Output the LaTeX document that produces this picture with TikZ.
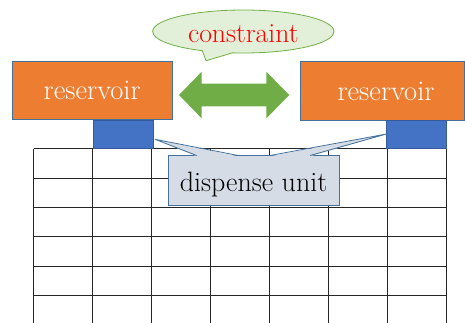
\documentclass[tikz,border=0pt]{standalone}
\usetikzlibrary{shapes.callouts}
\definecolor{resorange}{HTML}{ED7D31}
\definecolor{resborder}{HTML}{41719C}
\definecolor{unitblue}{HTML}{4472C4}
\definecolor{arrowgreen}{HTML}{70AD47}
\definecolor{calloutgreen}{HTML}{E2F0D9}
\definecolor{calloutblue}{HTML}{D6DCE5}
\tikzset{
  gridline/.style={draw=black!85, line width=0.8pt},
  resbox/.style={rectangle, fill=resorange, draw=resborder, line width=0.8pt, inner sep=0pt,
    text=white, font=\fontsize{28.5}{30}\selectfont, text height=39pt, text depth=19.5pt},
  unitbox/.style={rectangle, fill=unitblue, draw=unitblue!80!black, line width=0.4pt, inner sep=0pt},
  consbubble/.style={ellipse callout, fill=calloutgreen, draw=arrowgreen, line width=0.8pt,
    inner sep=0pt, text=red, font=\fontsize{27.7}{30}\selectfont},
  unitcallout/.style={rectangle, fill=calloutblue, draw=resborder, line width=0.8pt, inner sep=0pt,
    font=\fontsize{28}{30}\selectfont},
}
\begin{document}
\begin{tikzpicture}[x=1pt,y=-1pt]
\useasboundingbox (0,0) rectangle (465,322);
% grid
\foreach \i in {0,...,7}
  \draw[gridline] ({33.5+58.93*\i},148.7) -- ({33.5+58.93*\i},323);
\foreach \j in {0,...,5}
  \draw[gridline] (33.5,{148.7+29.32*\j}) -- (446,{148.7+29.32*\j});
% reservoirs
\node[resbox, minimum width=159.7pt] (resL) at (92.2,90.2) {reservoir};
\node[resbox, minimum width=164pt, text depth=20pt] (resR) at (382,90.5) {\hspace*{8pt}reservoir};
% dispense units
\node[unitbox, minimum width=60pt, minimum height=28.3pt] (uL) at (123.3,134.2) {};
\node[unitbox, minimum width=59.3pt, minimum height=28.3pt] (uR) at (416.3,134.2) {};
% double arrow
\fill[arrowgreen] (179,95) -- (201.7,71.7) -- (201.7,83.5) -- (266.3,83.5) -- (266.3,71.7)
  -- (289.3,95) -- (266.3,118.3) -- (266.3,106.3) -- (201.7,106.3) -- (201.7,118.3) -- cycle;
% constraint callout
\node[consbubble, minimum width=181.3pt, minimum height=43pt, text height=21.6pt, text depth=0pt,
  callout absolute pointer={(206,60.7)}, callout pointer arc=20] (cons) at (243.3,31.5) {constraint};
% dispense unit callout
\node[unitcallout, minimum width=171pt, text height=35.5pt, text depth=14pt] (du) at (253.5,180.3) {dispense unit};
\coordinate (tipL) at (155,139.3);
\coordinate (tipR) at (386.5,134);
\fill[calloutblue] (tipL) -- (196.7,156.3) -- (238.3,156.3) -- cycle;
\fill[calloutblue] (tipR) -- (270,156.3) -- (310,156.3) -- cycle;
\draw[resborder, line width=0.8pt, line join=round] (196.7,155.5) -- (tipL) -- (238.3,155.5);
\draw[resborder, line width=0.8pt, line join=round] (270,155.5) -- (tipR) -- (310,155.5);
\end{tikzpicture}
\end{document}
